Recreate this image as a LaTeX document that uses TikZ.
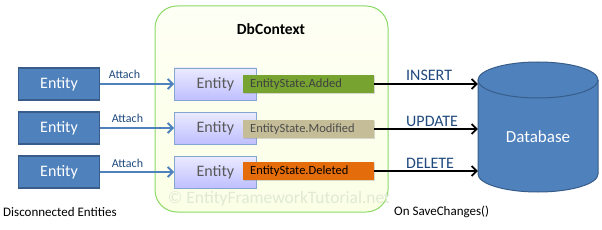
\documentclass[tikz,border=0pt]{standalone}
\usepackage{fontspec}
\setmainfont{Carlito}
\usetikzlibrary{arrows.meta,shadows}
\definecolor{dkblue}{HTML}{4F81BD}
\definecolor{dkbord}{HTML}{385D8A}
\definecolor{txtblue}{HTML}{1F497D}
\definecolor{addc}{HTML}{77A331}
\definecolor{modc}{HTML}{C4BD97}
\definecolor{delc}{HTML}{E46C0A}
\definecolor{wmc}{RGB}{224,233,212}
\colorlet{HTML2}{blue!25!white}
\tikzset{
  outer/.style={draw=dkbord, line width=1.2pt, fill=dkblue, minimum width=81pt, minimum height=32pt, text=white, font=\fontsize{16}{18}\selectfont, inner sep=0pt},
  inner/.style={draw=dkblue!70, line width=0.8pt, top color=blue!8!white, bottom color=HTML2, minimum width=82pt, minimum height=32pt, text=black!65, font=\fontsize{16}{18}\selectfont, inner sep=0pt, anchor=west},
  statebox/.style={minimum width=131pt, minimum height=18pt, anchor=west, inner xsep=7pt, inner ysep=0pt, align=left, text width=117pt, font=\fontsize{12.5}{14}\selectfont, drop shadow={shadow xshift=1pt, shadow yshift=-1pt, opacity=0.3}},
  attach/.style={draw=dkblue, line width=1.8pt, -{Straight Barb[length=5pt,width=10pt]}},
  sql/.style={draw=black, line width=1.8pt, -{Straight Barb[length=5pt,width=10pt]}},
  alab/.style={text=txtblue, font=\fontsize{12}{14}\selectfont, inner sep=0pt},
  slab/.style={text=txtblue, font=\fontsize{16}{18}\selectfont, inner sep=0pt, anchor=west},
}
\begin{document}
\begin{tikzpicture}[x=1pt,y=-1pt]
\useasboundingbox (0,0) rectangle (602,230);
% DbContext panel
\node[draw=green!50!olive!60, line width=1pt, rounded corners=22pt, top color=green!6!yellow!4!white, bottom color=green!15!yellow!10!white, minimum width=233pt, minimum height=206pt, inner sep=0pt] (ctx) at (271.5,109) {};
\node[font=\bfseries\fontsize{15.5}{17}\selectfont, inner sep=0pt] (title) at (271,29) {DbContext};
\node[text=wmc, font=\fontsize{17.5}{19}\selectfont, inner sep=0pt] (wm) at (279,199) {© EntityFrameworkTutorial.net};
% left entities
\node[outer] (e1) at (59,84) {Entity};
\node[outer] (e2) at (59,128) {Entity};
\node[outer] (e3) at (59,172) {Entity};
% inner entities
\node[inner] (i1) at (174,84) {Entity};
\node[inner] (i2) at (174,128) {Entity};
\node[inner] (i3) at (174,172) {Entity};
% states
\node[statebox, fill=addc, text=black!75] (s1) at (243,84) {EntityState.Added};
\node[statebox, fill=modc, text=black!70] (s2) at (243,129) {EntityState.Modified};
\node[statebox, fill=delc, text=black] (s3) at (243,171) {EntityState.Deleted};
% database
\node[minimum width=120pt, minimum height=130pt, inner sep=0pt] (db) at (538,127) {};
\fill[dkblue] (478,80) -- (478,174) arc[start angle=180, end angle=0, x radius=60, y radius=18] -- (598,80) -- cycle;
\draw[dkbord, line width=1pt] (478,80) -- (478,174) arc[start angle=180, end angle=0, x radius=60, y radius=18] -- (598,80);
\draw[dkbord, line width=1pt, fill=dkblue] (538,80) ellipse[x radius=60, y radius=18];
\node[text=white, font=\fontsize{17}{19}\selectfont, inner sep=0pt] (dbl) at (538,137) {Database};
% attach arrows
\draw[attach] (e1.east) -- (i1.west) node[alab, pos=0.33, above=5pt] (a1) {Attach};
\draw[attach] (e2.east) -- (i2.west) node[alab, pos=0.37, above=5pt] (a2) {Attach};
\draw[attach] (e3.east) -- (i3.west) node[alab, pos=0.37, above=4pt] (a3) {Attach};
% sql arrows
\draw[sql] (s1.east) -- (s1.east -| db.west);
\draw[sql] (s2.east) -- (s2.east -| db.west);
\draw[sql] (s3.east) -- (s3.east -| db.west);
\node[slab] (l1) at (406,75) {INSERT};
\node[slab] (l2) at (406,121) {UPDATE};
\node[slab] (l3) at (406,163) {DELETE};
% captions
\node[font=\fontsize{13}{15}\selectfont, anchor=west, inner sep=0pt] (c1) at (3,212) {Disconnected Entities};
\node[font=\fontsize{13}{15}\selectfont, anchor=west, inner sep=0pt] (c2) at (394,212) {On SaveChanges()};
\end{tikzpicture}
\end{document}
